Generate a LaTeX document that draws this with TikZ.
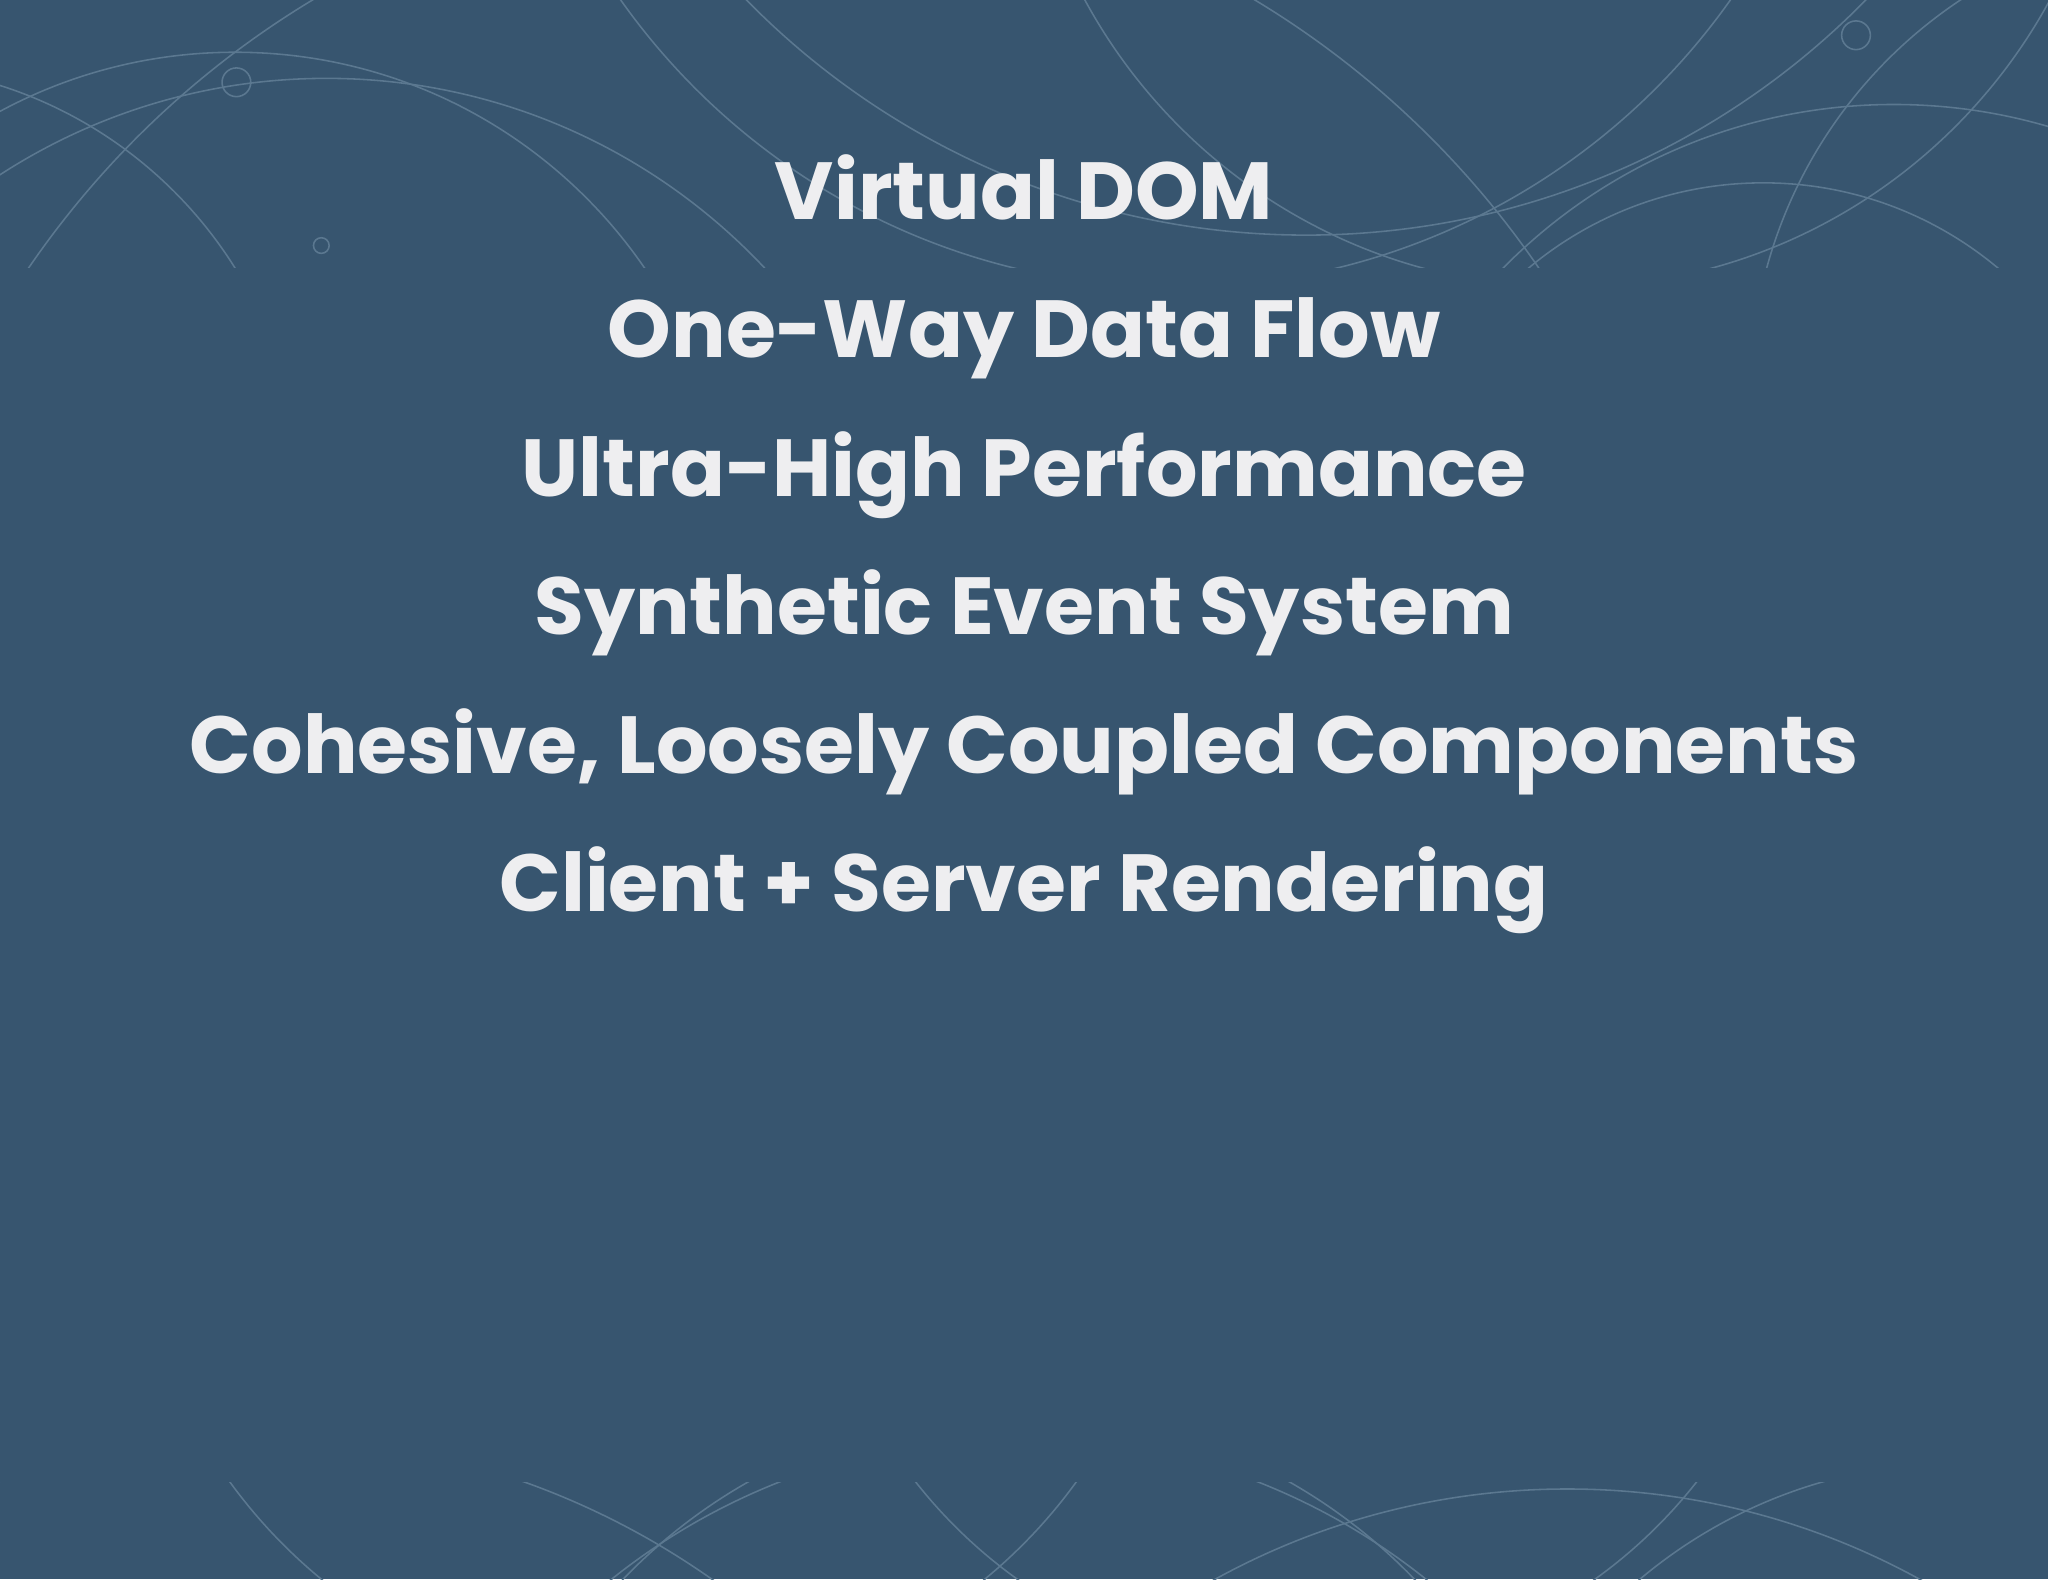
\documentclass[tikz,border=0pt]{standalone}
\usepackage{fontspec}
\setmainfont{Poppins}
\definecolor{bg}{HTML}{37556F}
\definecolor{fg}{HTML}{EEEEF0}
\definecolor{arc}{HTML}{5B7890}
\begin{document}
\begin{tikzpicture}[x=0.5pt,y=-0.5pt,
  item/.style={text=fg,font=\fontsize{31}{36}\selectfont\bfseries,anchor=base,inner sep=0},
  deco/.style={draw=arc,line width=0.6pt}]
\fill[bg] (0,0) rectangle (1568,1209);
\useasboundingbox (0,0) rectangle (1568,1209);
\begin{scope}
\clip (0,0) rectangle (1568,205);
\draw[deco] (180,420) circle (380);
\draw[deco] (250,520) circle (460);
\draw[deco] (-100,380) circle (330);
\draw[deco] (900,-300) circle (520);
\draw[deco] (1000,-420) circle (600);
\draw[deco] (600,600) circle (700);
\draw[deco] (1350,420) circle (280);
\draw[deco] (1450,500) circle (420);
\draw[deco] (1200,-200) circle (420);
\draw[deco] (1700,300) circle (360);
\draw[deco] (181,63) circle (11);
\draw[deco] (246,188) circle (6);
\draw[deco] (1421,27) circle (11);
\end{scope}
\begin{scope}
\clip (0,1135) rectangle (1568,1209);
\draw[deco] (200,1700) circle (600);
\draw[deco] (780,1500) circle (420);
\draw[deco] (780,1600) circle (500);
\draw[deco] (1200,1700) circle (560);
\draw[deco] (1500,1500) circle (380);
\draw[deco] (500,900) circle (400);
\draw[deco] (1000,900) circle (380);
\end{scope}
\node[item] (a) at (784,168) {Virtual DOM};
\node[item] (b) at (784,274) {One-Way Data Flow};
\node[item] (c) at (784,380) {Ultra-High Performance};
\node[item] (d) at (784,486) {Synthetic Event System};
\node[item] (e) at (784,592) {Cohesive, Loosely Coupled Components};
\node[item] (f) at (784,698) {Client + Server Rendering};
\end{tikzpicture}
\end{document}
